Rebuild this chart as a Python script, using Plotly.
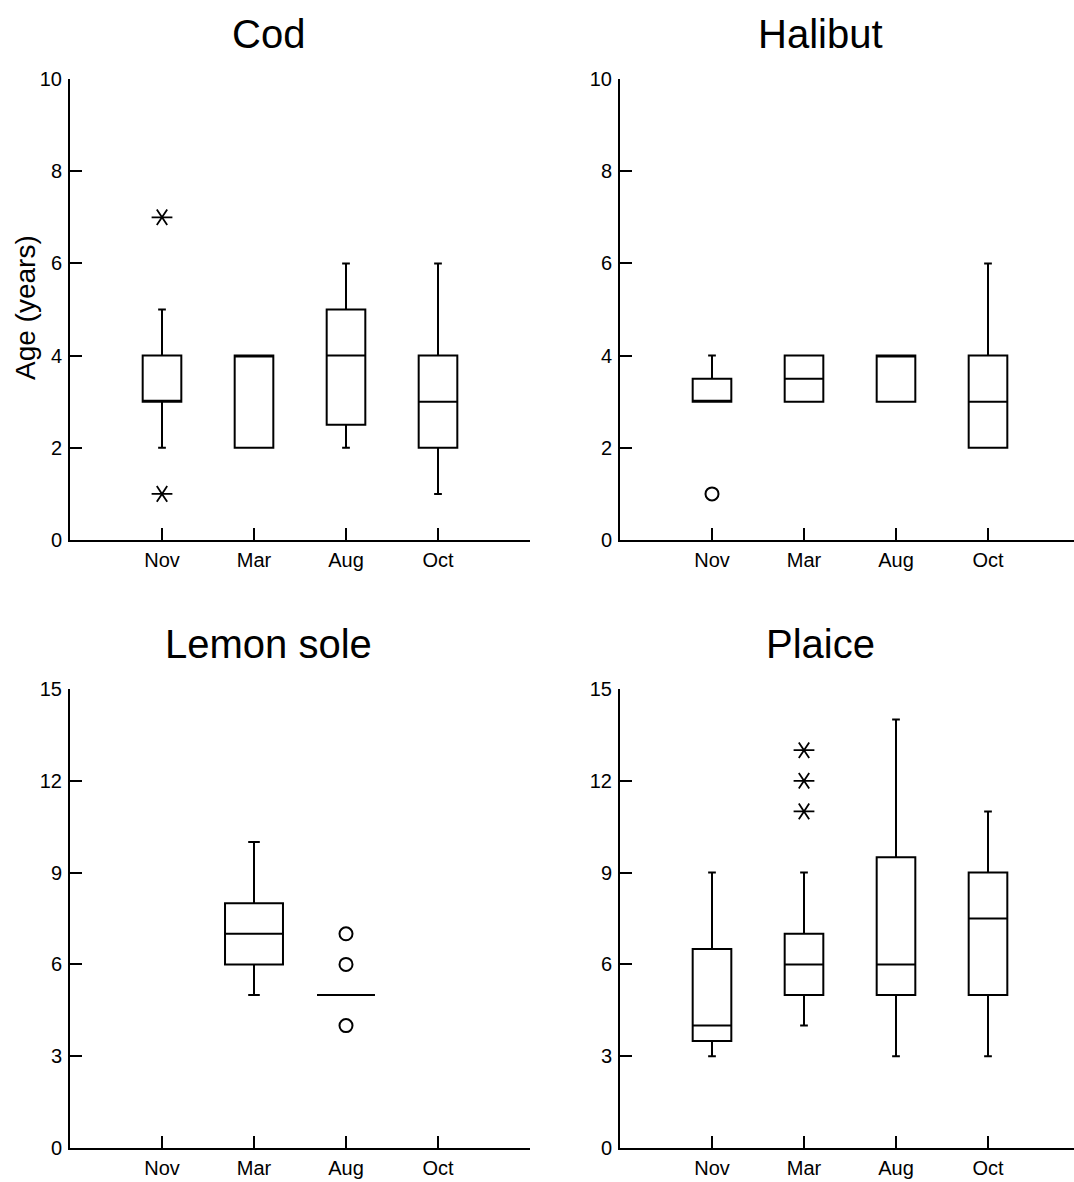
import plotly.graph_objects as go

# ---------------- data ----------------
months = ["Nov", "Mar", "Aug", "Oct"]

cod_q1 = [3, 2, 2.5, 2]
cod_median = [3, 4, 4, 3]
cod_q3 = [4, 4, 5, 4]
cod_lower = [2, 2, 2, 1]
cod_upper = [5, 4, 6, 6]
cod_far_months = ["Nov", "Nov"]
cod_far_values = [7, 1]

hal_q1 = [3, 3, 3, 2]
hal_median = [3, 3.5, 4, 3]
hal_q3 = [3.5, 4, 4, 4]
hal_lower = [3, 3, 3, 2]
hal_upper = [4, 4, 4, 6]
hal_out_months = ["Nov"]
hal_out_values = [1]

lem_months = ["Mar", "Aug"]
lem_q1 = [6, 5]
lem_median = [7, 5]
lem_q3 = [8, 5]
lem_lower = [5, 5]
lem_upper = [10, 5]
lem_out_months = ["Aug", "Aug", "Aug"]
lem_out_values = [7, 6, 4]

pla_q1 = [3.5, 5, 5, 5]
pla_median = [4, 6, 6, 7.5]
pla_q3 = [6.5, 7, 9.5, 9]
pla_lower = [3, 4, 3, 3]
pla_upper = [9, 9, 14, 11]
pla_far_months = ["Mar", "Mar", "Mar"]
pla_far_values = [11, 12, 13]

titles = ["Cod", "Halibut", "Lemon sole", "Plaice"]
top_ticks = [0, 2, 4, 6, 8, 10]
bottom_ticks = [0, 3, 6, 9, 12, 15]

# ---------------- figure ----------------
W, H = 1074, 1182
FONT = "Arial, Liberation Sans, sans-serif"


def pos(ms):
    return [months.index(m) for m in ms]


fig = go.Figure()


def add_box(ms, q1, med, q3, lo, hi, xa, ya, width):
    fig.add_trace(go.Box(
        x=pos(ms), q1=q1, median=med, q3=q3, lowerfence=lo, upperfence=hi,
        width=width, whiskerwidth=0.2, boxpoints=False,
        fillcolor="white", line=dict(color="black", width=2),
        xaxis=xa, yaxis=ya, showlegend=False, hoverinfo="skip"))


def add_circles(ms, vals, xa, ya):
    fig.add_trace(go.Scatter(
        x=pos(ms), y=vals, mode="markers",
        marker=dict(symbol="circle-open", size=13, color="black",
                    line=dict(color="black", width=2)),
        xaxis=xa, yaxis=ya, showlegend=False, hoverinfo="skip"))


def add_stars(ms, vals, xa, ya):
    for sym in ("y-left-open", "y-right-open"):
        fig.add_trace(go.Scatter(
            x=pos(ms), y=vals, mode="markers",
            marker=dict(symbol=sym, size=13, color="black",
                        line=dict(color="black", width=1.8)),
            xaxis=xa, yaxis=ya, showlegend=False, hoverinfo="skip"))


add_box(months, cod_q1, cod_median, cod_q3, cod_lower, cod_upper, "x", "y", 0.42)
add_stars(cod_far_months, cod_far_values, "x", "y")

add_box(months, hal_q1, hal_median, hal_q3, hal_lower, hal_upper, "x2", "y2", 0.42)
add_circles(hal_out_months, hal_out_values, "x2", "y2")

add_box(lem_months, lem_q1, lem_median, lem_q3, lem_lower, lem_upper, "x3", "y3", 0.63)
add_circles(lem_out_months, lem_out_values, "x3", "y3")

add_box(months, pla_q1, pla_median, pla_q3, pla_lower, pla_upper, "x4", "y4", 0.42)
add_stars(pla_far_months, pla_far_values, "x4", "y4")

# pixel geometry
left_x = (70, 530)
right_x = (620, W)
top_y = (79, 540)
bot_y = (689, 1148)
unit_px = (530 - 70) / 5.0


def xdom(px):
    return [px[0] / W, px[1] / W]


def ydom(px):
    return [1 - px[1] / H, 1 - px[0] / H]


def xaxis_cfg(px):
    span = (px[1] - px[0]) / unit_px
    return dict(
        domain=xdom(px), range=[-1, -1 + span],
        tickvals=[-1, 0, 1, 2, 3, 4], ticktext=[""] + months + [""],
        ticks="inside", ticklen=12, tickwidth=2, tickcolor="black",
        showline=True, linewidth=2, linecolor="black", automargin=False,
        showgrid=False, zeroline=False, ticklabelstandoff=1,
        tickfont=dict(family=FONT, size=20, color="black"), fixedrange=True)


def yaxis_cfg(px, ticks, anchor):
    return dict(
        domain=ydom(px), range=[0, ticks[-1]], tickvals=ticks,
        ticks="inside", ticklen=12, tickwidth=2, tickcolor="black",
        showline=True, linewidth=2, linecolor="black", automargin=False,
        showgrid=False, zeroline=False, anchor=anchor, ticklabelstandoff=2,
        tickfont=dict(family=FONT, size=20, color="black"), fixedrange=True)


fig.update_layout(
    width=W, height=H,
    margin=dict(l=0, r=0, t=0, b=0, autoexpand=False),
    paper_bgcolor="white", plot_bgcolor="white",
    font=dict(family=FONT, color="black"),
    xaxis=dict(xaxis_cfg(left_x), anchor="y"),
    yaxis=yaxis_cfg(top_y, top_ticks, "x"),
    xaxis2=dict(xaxis_cfg(right_x), anchor="y2"),
    yaxis2=yaxis_cfg(top_y, top_ticks, "x2"),
    xaxis3=dict(xaxis_cfg(left_x), anchor="y3"),
    yaxis3=yaxis_cfg(bot_y, bottom_ticks, "x3"),
    xaxis4=dict(xaxis_cfg(right_x), anchor="y4"),
    yaxis4=yaxis_cfg(bot_y, bottom_ticks, "x4"),
)

title_pos = [(268, 34), (820, 34), (268, 644), (820, 644)]
for t, (cx, cy) in zip(titles, title_pos):
    fig.add_annotation(text=t, x=cx / W, y=1 - cy / H, xref="paper", yref="paper",
                       xanchor="center", yanchor="middle", showarrow=False,
                       font=dict(family=FONT, size=40, color="black"))

fig.add_annotation(text="Age (years)", x=26 / W, y=1 - 308 / H, xref="paper", yref="paper",
                   xanchor="center", yanchor="middle", textangle=-90, showarrow=False,
                   font=dict(family=FONT, size=28, color="black"))

fig.write_html("out.html")
